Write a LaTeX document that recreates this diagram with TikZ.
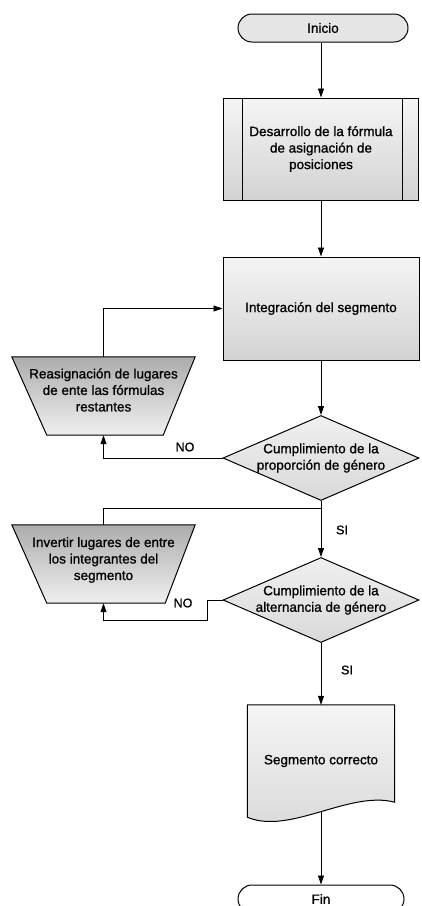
\documentclass[tikz,border=0pt]{standalone}
\usepackage{fontspec}
\setmainfont[FakeBold=1]{Liberation Sans}
\usetikzlibrary{shapes.geometric,shapes.misc,arrows.meta,calc,backgrounds}
\begin{document}
\begin{tikzpicture}[x=1pt,y=-1pt,
  every node/.style={font=\fontsize{13.5}{16.5}\selectfont, align=center},
  shp/.style={draw=black, line width=1pt},
  arr/.style={line width=0.8pt, -{Triangle[length=9pt,width=6pt]}},
  ln/.style={line width=0.8pt},
  lab/.style={font=\fontsize{12.5}{15}\selectfont},
  term/.style={shp, shape=rounded rectangle, minimum height=28pt, inner sep=0pt},
  procbox/.style={shp, shape=rectangle, top color=gray!8, bottom color=gray!35},
  decision/.style={shp, shape=diamond, minimum width=196pt, minimum height=85pt, inner sep=0pt, top color=gray!12, bottom color=gray!30},
  trapbox/.style={shape=rectangle, minimum width=183pt, minimum height=78pt, inner sep=0pt},
  trapfill/.style={shp, top color=gray!65, bottom color=gray!12}
]
\useasboundingbox (0,0) rectangle (422,906);

\node[term, minimum width=170pt, fill=gray!20] (inicio) at (323,28) {Inicio};

\node[procbox, minimum width=195pt, minimum height=102pt] (des) at (321,149) {Desarrollo de la fórmula\\de asignación de\\posiciones};
\draw[shp] ([xshift=19pt]des.north west) -- ([xshift=19pt]des.south west);
\draw[shp] ([xshift=-17pt]des.north east) -- ([xshift=-17pt]des.south east);

\node[procbox, minimum width=196pt, minimum height=103pt] (int) at (321,308.5) {Integración del segmento};

\node[decision, label={[name=d1t]center:{Cumplimiento de la\\proporción de género}}] (d1) at (321,458) {};

\node[trapbox, label={[name=t1t, yshift=6pt]center:{Reasignación de lugares\\de ente las fórmulas\\restantes}}] (t1) at (103.5,396) {};

\node[decision, label={[name=d2t]center:{Cumplimiento de la\\alternancia de género}}] (d2) at (321,600) {};

\node[trapbox, label={[name=t2t, yshift=4pt]center:{Invertir lugares de entre\\los integrantes del\\segmento}}] (t2) at (103.5,564) {};

\node[minimum width=147pt, minimum height=112pt] (doc) at (321,761) {Segmento correcto};

\begin{scope}[on background layer]
\draw[trapfill] (t1.north west) -- (t1.north east) -- ($(t1.south east)+(-32,0)$) -- ($(t1.south west)+(35,0)$) -- cycle;
\draw[trapfill] (t2.north west) -- (t2.north east) -- ($(t2.south east)+(-30,0)$) -- ($(t2.south west)+(35,0)$) -- cycle;
\draw[shp, top color=gray!8, bottom color=gray!30] (doc.north west) -- (doc.north east) -- ([yshift=15pt]doc.south east) .. controls ($(doc.south)+(28.5,-27)$) and ($(doc.south)+(-31.5,18)$) .. (doc.south west) -- cycle;
\end{scope}

\node[term, minimum width=166pt, fill=white] (fin) at (321,899) {Fin};

\coordinate (j1) at (321,508);

\draw[arr] (inicio.south -| des.north) -- (des.north);
\draw[arr] (des.south) -- (int.north);
\draw[arr] (int.south) -- (d1.north);
\draw[arr] (d1.west) -| (t1.south);
\draw[arr] (t1.north) |- (int.west);
\draw[arr] (d1.south) -- (d2.north);
\draw[ln] (t2.north) |- (j1);
\draw[arr] (d2.west) -- ++(-15,0) -- ++(0,20) -| (t2.south);
\draw[arr] (d2.south) -- (doc.north);
\draw[arr] ([yshift=5pt]doc.south) -- (fin.north);

\node[lab] (no1) at (185,447) {NO};
\node[lab] (no2) at (183,603) {NO};
\node[lab] (si1) at (342,530) {SI};
\node[lab] (si2) at (347,670) {SI};
\end{tikzpicture}
\end{document}
